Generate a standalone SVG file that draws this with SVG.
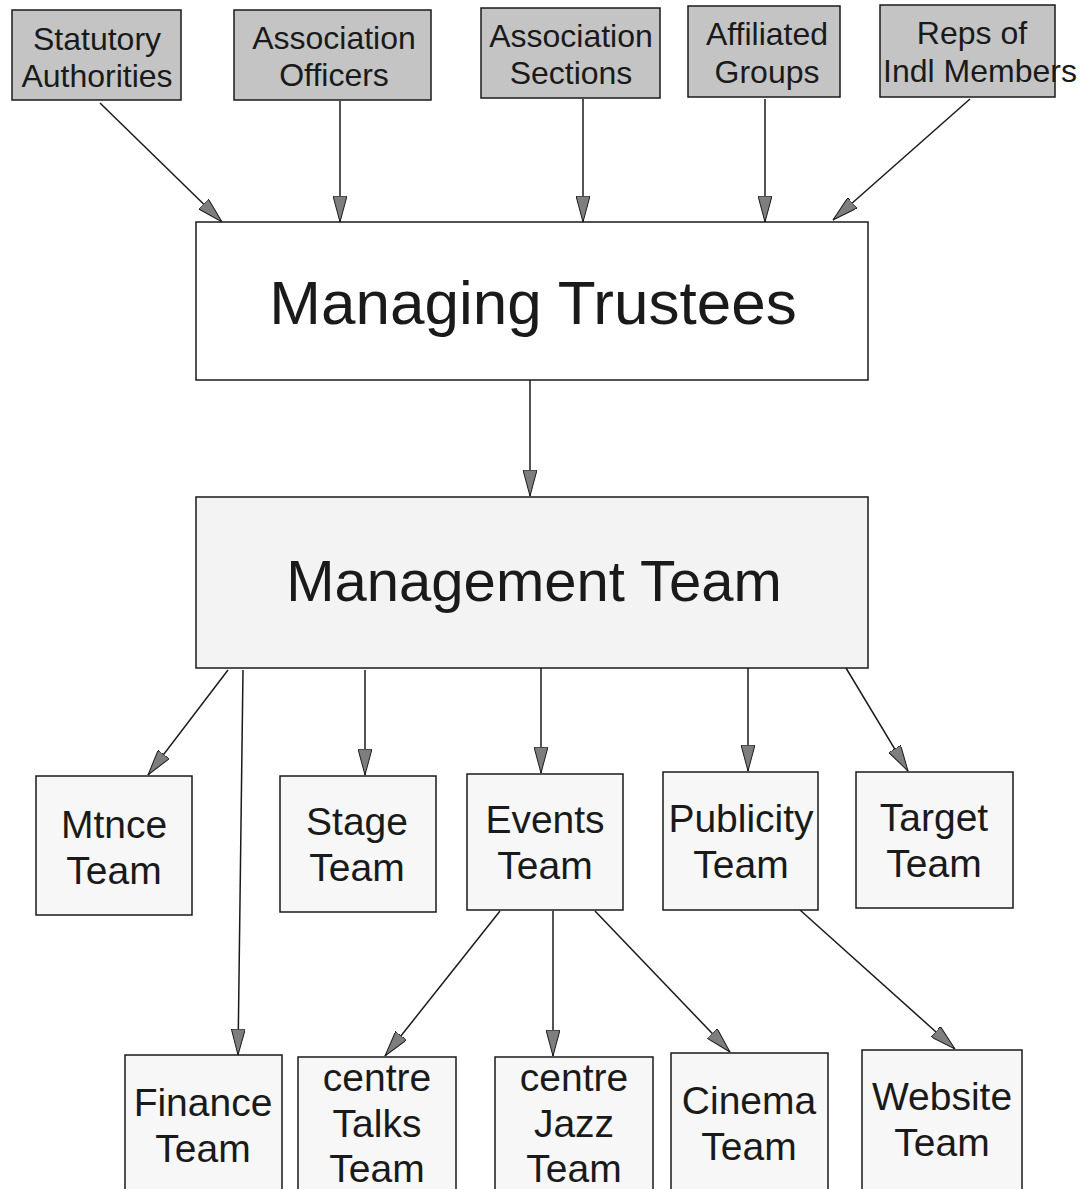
<svg xmlns="http://www.w3.org/2000/svg" width="1085" height="1189" viewBox="0 0 1085 1189">
<style>
.bg{fill:#ffffff}
.top{fill:#c4c4c4;stroke:#1a1a1a;stroke-width:1.5}
.white{fill:#ffffff;stroke:#1a1a1a;stroke-width:1.5}
.light{fill:#f3f3f3;stroke:#1a1a1a;stroke-width:1.5}
.team{fill:#f7f7f7;stroke:#1a1a1a;stroke-width:1.5}
text{font-family:"Liberation Sans",Arial,sans-serif;fill:#1a1a1a;text-anchor:middle}
.t1{font-size:32px}
.t2{font-size:62px}
.t3{font-size:58px}
.t4{font-size:39px}
.conn line{stroke:#1a1a1a;stroke-width:1.5;marker-end:url(#arr)}
</style>
<defs>
<marker id="arr" viewBox="0 0 26 14" refX="26" refY="7" markerWidth="26" markerHeight="14" markerUnits="userSpaceOnUse" orient="auto">
<path d="M0,0 L26,7 L0,14 z" fill="#7e7e7e" stroke="#1a1a1a" stroke-width="1"/>
</marker>
</defs>
<rect class="bg" x="0" y="0" width="1085" height="1189"/>

<g class="conn">
<line x1="100" y1="103" x2="222" y2="222"/>
<line x1="340" y1="101" x2="340" y2="222"/>
<line x1="583" y1="99" x2="583" y2="222"/>
<line x1="765" y1="99" x2="765" y2="222"/>
<line x1="970" y1="99" x2="833" y2="220"/>
<line x1="530" y1="380" x2="530" y2="496"/>
<line x1="228" y1="670" x2="148" y2="775"/>
<line x1="243" y1="670" x2="238" y2="1055"/>
<line x1="365" y1="670" x2="365" y2="775"/>
<line x1="541" y1="668" x2="541" y2="773"/>
<line x1="748" y1="668" x2="748" y2="771"/>
<line x1="846" y1="668" x2="908" y2="771"/>
<line x1="500" y1="911" x2="385" y2="1056"/>
<line x1="553" y1="911" x2="553" y2="1056"/>
<line x1="595" y1="911" x2="730" y2="1052"/>
<line x1="800" y1="910" x2="955" y2="1049"/>
</g>

<g id="statutory"><rect class="top" x="12" y="10" width="169" height="90"/><text class="t1" x="97" y="50">Statutory</text><text class="t1" x="97" y="87">Authorities</text></g>
<g id="officers"><rect class="top" x="234" y="10" width="197" height="90"/><text class="t1" x="334" y="49">Association</text><text class="t1" x="334" y="86">Officers</text></g>
<g id="sections"><rect class="top" x="481" y="8" width="179" height="90"/><text class="t1" x="571" y="47">Association</text><text class="t1" x="571" y="84">Sections</text></g>
<g id="affiliated"><rect class="top" x="688" y="6" width="152" height="91"/><text class="t1" x="767" y="45">Affiliated</text><text class="t1" x="767" y="83">Groups</text></g>
<g id="reps"><rect class="top" x="880" y="5" width="175" height="92"/><text class="t1" x="972" y="44">Reps of</text><text class="t1" x="980" y="82">Indl Members</text></g>

<g id="trustees"><rect class="white" x="196" y="222" width="672" height="158"/><text class="t2" x="533" y="324">Managing Trustees</text></g>
<g id="management"><rect class="light" x="196" y="497" width="672" height="171"/><text class="t3" x="534" y="601">Management Team</text></g>

<g id="mtnce"><rect class="team" x="36" y="776" width="156" height="139"/><text class="t4" x="114" y="838">Mtnce</text><text class="t4" x="114" y="884">Team</text></g>
<g id="stage"><rect class="team" x="280" y="776" width="156" height="136"/><text class="t4" x="357" y="835">Stage</text><text class="t4" x="357" y="881">Team</text></g>
<g id="events"><rect class="team" x="467" y="774" width="156" height="136"/><text class="t4" x="545" y="833">Events</text><text class="t4" x="545" y="879">Team</text></g>
<g id="publicity"><rect class="team" x="663" y="772" width="155" height="138"/><text class="t4" x="741" y="832">Publicity</text><text class="t4" x="741" y="878">Team</text></g>
<g id="target"><rect class="team" x="856" y="772" width="157" height="136"/><text class="t4" x="934" y="831">Target</text><text class="t4" x="934" y="877">Team</text></g>

<g id="finance"><rect class="team" x="125" y="1055" width="157" height="150"/><text class="t4" x="203" y="1116">Finance</text><text class="t4" x="203" y="1162">Team</text></g>
<g id="talks"><rect class="team" x="298" y="1057" width="158" height="150"/><text class="t4" x="377" y="1091">centre</text><text class="t4" x="377" y="1137">Talks</text><text class="t4" x="377" y="1182">Team</text></g>
<g id="jazz"><rect class="team" x="495" y="1057" width="158" height="150"/><text class="t4" x="574" y="1091">centre</text><text class="t4" x="574" y="1137">Jazz</text><text class="t4" x="574" y="1182">Team</text></g>
<g id="cinema"><rect class="team" x="671" y="1053" width="157" height="150"/><text class="t4" x="749" y="1114">Cinema</text><text class="t4" x="749" y="1160">Team</text></g>
<g id="website"><rect class="team" x="862" y="1050" width="160" height="150"/><text class="t4" x="942" y="1110">Website</text><text class="t4" x="942" y="1156">Team</text></g>
</svg>
